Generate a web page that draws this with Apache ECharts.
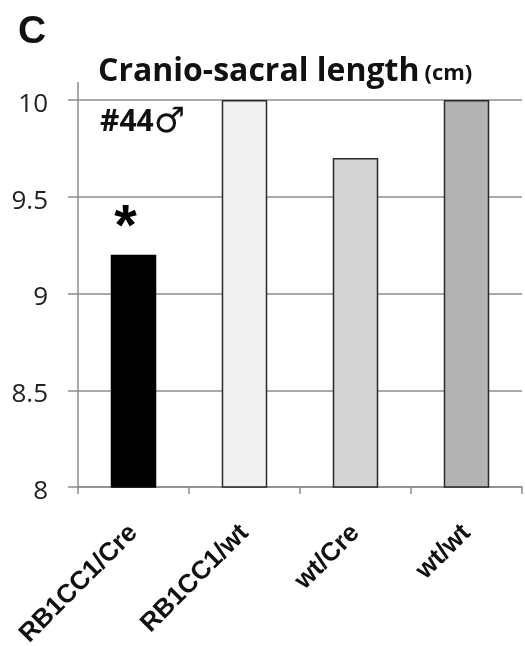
<!DOCTYPE html>
<html>
<head>
<meta charset="utf-8">
<script src="https://cdn.jsdelivr.net/npm/echarts@6/dist/echarts.min.js"></script>
<style>html,body{margin:0;padding:0;background:#fff;}#c{width:525px;height:646px;}</style>
</head>
<body>
<div id="c"></div>
<script>
const categories = ['RB1CC1/Cre', 'RB1CC1/wt', 'wt/Cre', 'wt/wt'];
const values = [9.2, 10.0, 9.7, 10.0];
const barColors = ['#000000', '#f0f0f0', '#d4d4d4', '#b3b3b3'];
const annotations = ['*', '', '', ''];
const yTicks = [8, 8.5, 9, 9.5, 10];

const gridLeft = 78, gridRight = 3, gridTop = 100, gridBottom = 159;

const chart = echarts.init(document.getElementById('c'), null, {renderer: 'canvas'});
const option = {
  backgroundColor: '#ffffff',
  animation: false,
  title: [
    {
      text: 'C',
      left: 13, top: 8,
      textStyle: {fontFamily: 'Liberation Sans', fontWeight: 'bold', fontSize: 39, color: '#111'}
    },
    {
      text: '{a|Cranio-sacral length} {b|(cm)}',
      left: 93, top: 51,
      textStyle: {
        rich: {
          a: {fontFamily: 'Open Sans', fontWeight: 'bold', fontSize: 32, color: '#111'},
          b: {fontFamily: 'Open Sans', fontWeight: 'bold', fontSize: 22, color: '#111', verticalAlign: 'bottom', padding: [0,0,3,0]}
        }
      }
    },
    {
      text: '{a|#44}{b|\u2642}',
      left: 95, top: 100,
      textStyle: {
        rich: {
          a: {fontFamily: 'Open Sans', fontWeight: 'bold', fontSize: 30, color: '#111'},
          b: {fontFamily: 'DejaVu Sans', fontWeight: 'bold', fontSize: 35, color: '#111'}
        }
      }
    }
  ],
  grid: {left: gridLeft, right: gridRight, top: gridTop, bottom: gridBottom, containLabel: false, outerBoundsMode: 'none'},
  xAxis: {
    type: 'category',
    data: categories,
    axisLine: {show: true, lineStyle: {color: '#8c8c8c', width: 1.5}},
    axisTick: {show: true, alignWithLabel: false, length: 7, lineStyle: {color: '#8c8c8c', width: 1.5}},
    axisLabel: {
      interval: 0, rotate: 45, margin: 42,
      fontFamily: 'Liberation Sans', fontWeight: 'bold', fontSize: 26, color: '#111'
    },
    splitLine: {show: false}
  },
  yAxis: {
    type: 'value',
    min: yTicks[0], max: yTicks[yTicks.length - 1], interval: 0.5,
    axisLine: {show: true, lineStyle: {color: '#8c8c8c', width: 1.5}},
    axisTick: {show: true, length: 10, lineStyle: {color: '#8c8c8c', width: 1.5}},
    axisLabel: {
      margin: 30, color: '#222',
      formatter: v => '{v|' + v + '}',
      rich: {v: {fontFamily: 'Open Sans', fontSize: 26, color: '#222', padding: [9, 0, 0, 0]}}
    },
    splitLine: {show: true, lineStyle: {color: '#8c8c8c', width: 1.5}}
  },
  series: [{
    type: 'bar',
    barWidth: '41%',
    data: values.map((v, i) => ({
      value: v,
      itemStyle: {color: barColors[i], borderColor: i === 0 ? '#000' : '#2a2a2a', borderWidth: 1.5},
      label: annotations[i] ? {
        show: true, position: 'top', formatter: annotations[i], distance: 6, offset: [-8, 0],
        fontFamily: 'Liberation Sans', fontWeight: 'bold', fontSize: 58, color: '#000', lineHeight: 40
      } : {show: false}
    }))
  }]
};
chart.setOption(option);

// extend the y axis line slightly above the top value, like the reference
const yTopPx = chart.convertToPixel({yAxisIndex: 0}, yTicks[yTicks.length - 1]);
chart.setOption({
  graphic: [{
    type: 'line',
    shape: {x1: gridLeft, y1: yTopPx - 18, x2: gridLeft, y2: yTopPx},
    style: {stroke: '#8c8c8c', lineWidth: 1.5}
  }]
});
</script>
</body>
</html>
